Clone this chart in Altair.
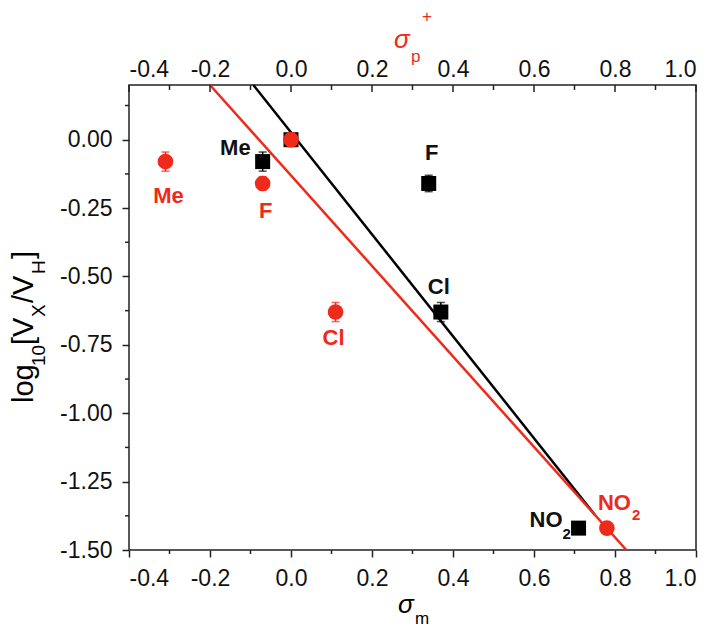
import altair as alt
import pandas as pd

# ---------------- data ----------------
substituents = ["Me", "H", "F", "Cl", "NO2"]
sigma_m = [-0.07, 0.0, 0.34, 0.37, 0.71]
sigma_p_plus = [-0.31, 0.0, -0.07, 0.11, 0.78]
log_ratio = [-0.08, 0.0, -0.16, -0.63, -1.42]
err_m = [0.035, 0.02, 0.03, 0.035, 0.01]
err_p = [0.035, 0.025, 0.025, 0.035, 0.02]

fit_m_x = [-0.093, 0.75]
fit_m_y = [0.2, -1.371]
fit_p_x = [-0.2, 0.828]
fit_p_y = [0.2, -1.5]

x_major = [-0.4, -0.2, 0.0, 0.2, 0.4, 0.6, 0.8, 1.0]
x_minor = [-0.3, -0.1, 0.1, 0.3, 0.5, 0.7, 0.9]
y_major = [-1.5, -1.25, -1.0, -0.75, -0.5, -0.25, 0.0]
y_minor = [-1.375, -1.125, -0.875, -0.625, -0.375, -0.125, 0.125]

# ---------------- style ----------------
W, H = 567, 465
FONT = "Liberation Sans"
RED = "#ee2a1a"
BLACK = "#111111"
LBL = 23

XLBL = "(datum.value < 0 ? '-' : '') + format(abs(datum.value), '.1f')"
YLBL = "(datum.value < 0 ? '-' : '') + format(abs(datum.value), '.2f')"

xs = alt.Scale(domain=[-0.4, 1.0], nice=False, zero=False)
ys = alt.Scale(domain=[-1.5, 0.2], nice=False, zero=False)
xax = alt.Axis(values=x_major, labelExpr=XLBL, title=None, tickSize=7, labelFontSize=LBL,
               labelPadding=10, grid=False, domain=False, labelFont=FONT)
yax = alt.Axis(values=y_major, labelExpr=YLBL, title=None, tickSize=7, labelFontSize=LBL,
               labelPadding=10, grid=False, domain=False, labelFont=FONT)
xtop = alt.Axis(orient="top", values=x_major, labelExpr=XLBL, title=None, ticks=False, tickSize=0,
                labelFontSize=LBL, labelPadding=4, grid=False, domain=False, labelFont=FONT)

label_style = {
    ("m", "Me"): dict(align="right", dx=-12, dy=-7),
    ("m", "F"): dict(align="center", dx=3, dy=-23),
    ("m", "Cl"): dict(align="center", dx=-2, dy=-18),
    ("m", "NO2"): dict(align="right", dx=-16, dy=-1, sub_dx=-16, sub_dy=11),
    ("p", "Me"): dict(align="center", dx=3, dy=41),
    ("p", "F"): dict(align="center", dx=3, dy=35),
    ("p", "Cl"): dict(align="center", dx=-2, dy=33),
    ("p", "NO2"): dict(align="left", dx=-9, dy=-18, sub_dx=25, sub_dy=-8),
}

df_m = pd.DataFrame({"sub": substituents, "x": sigma_m, "y": log_ratio,
                     "lo": [v - e for v, e in zip(log_ratio, err_m)],
                     "hi": [v + e for v, e in zip(log_ratio, err_m)]})
df_p = pd.DataFrame({"sub": substituents, "x": sigma_p_plus, "y": log_ratio,
                     "lo": [v - e for v, e in zip(log_ratio, err_p)],
                     "hi": [v + e for v, e in zip(log_ratio, err_p)]})
fit_m = pd.DataFrame({"x": fit_m_x, "y": fit_m_y})
fit_p = pd.DataFrame({"x": fit_p_x, "y": fit_p_y})
dummy = pd.DataFrame({"a": [0]})

X = lambda f="x": alt.X(f"{f}:Q", scale=xs, axis=xax)
Y = lambda f="y": alt.Y(f"{f}:Q", scale=ys, axis=yax)

layers = []
# minor ticks bottom / left
layers.append(alt.Chart(pd.DataFrame({"x": x_minor})).mark_rule(color="#222", strokeWidth=1.5)
              .encode(x=X(), y=alt.value(H), y2=alt.value(H + 4)))
layers.append(alt.Chart(pd.DataFrame({"y": y_minor})).mark_rule(color="#222", strokeWidth=1.5)
              .encode(y=Y(), x=alt.value(-4), x2=alt.value(0)))
# fit lines
layers.append(alt.Chart(fit_m).mark_line(color="black", strokeWidth=2.5).encode(x=X(), y=Y()))
layers.append(alt.Chart(fit_p).mark_line(color=RED, strokeWidth=2.5).encode(x=X(), y=Y()))


def points(df, color, shape, size):
    out = []
    out.append(alt.Chart(df).mark_rule(color=color, strokeWidth=1.5)
               .encode(x=X(), y=Y("lo"), y2="hi:Q"))
    out.append(alt.Chart(df).mark_tick(color=color, orient="horizontal", size=8, thickness=1.5)
               .encode(x=X(), y=Y("lo")))
    out.append(alt.Chart(df).mark_tick(color=color, orient="horizontal", size=8, thickness=1.5)
               .encode(x=X(), y=Y("hi")))
    out.append(alt.Chart(df).mark_point(shape=shape, filled=True, size=size, color=color, opacity=1)
               .encode(x=X(), y=Y()))
    return out


layers += points(df_m, "black", "square", 225)
layers += points(df_p, RED, "circle", 245)


def labels(df, key, color):
    out = []
    for _, row in df.iterrows():
        st = label_style.get((key, row["sub"]))
        if st is None:
            continue
        one = df[df["sub"] == row["sub"]]
        main = "NO" if row["sub"] == "NO2" else row["sub"]
        out.append(alt.Chart(one).mark_text(text=main, font=FONT, fontSize=22, fontWeight="bold",
                                            color=color, align=st["align"], baseline="alphabetic",
                                            dx=st["dx"], dy=st["dy"])
                   .encode(x=X(), y=Y()))
        if row["sub"] == "NO2":
            out.append(alt.Chart(one).mark_text(text="2", font=FONT, fontSize=15, fontWeight="bold",
                                                color=color, align="left", baseline="alphabetic",
                                                dx=st["sub_dx"], dy=st["sub_dy"])
                       .encode(x=X(), y=Y()))
    return out


layers += labels(df_m, "m", BLACK)
layers += labels(df_p, "p", RED)


def txt(s, x, y, size, color="black", italic=False, angle=0):
    return (alt.Chart(dummy)
            .mark_text(text=s, font=FONT, fontSize=size, fontStyle="italic" if italic else "normal",
                       color=color, angle=angle, align="left", baseline="alphabetic")
            .encode(x=alt.value(x), y=alt.value(y)))


# y title: log10[VX/VH]
MS, SS = 29, 19
layers += [
    txt("log", -96, 318, MS, angle=270),
    txt("10", -84, 281, SS, angle=270),
    txt("[V", -96, 260, MS, angle=270),
    txt("X", -84, 232, SS, angle=270),
    txt("/V", -96, 218, MS, angle=270),
    txt("H", -84, 189, SS, angle=270),
    txt("]", -96, 174, MS, angle=270),
]
# bottom title sigma_m
layers += [txt("σ", 269, 528, 26, italic=True), txt("m", 286, 539, 17)]
# top title sigma_p+
layers += [txt("σ", 265, -37, 26, color=RED, italic=True),
           txt("p", 282, -23, 17, color=RED),
           txt("+", 293, -63, 17, color=RED)]

inner = alt.layer(*layers)

# top axis with inward ticks
xs_top = alt.Scale(domain=[-0.4, 1.0], nice=False, zero=False)
top_major = (alt.Chart(pd.DataFrame({"x": x_major})).mark_rule(color="#222", strokeWidth=1.5)
             .encode(x=alt.X("x:Q", scale=xs_top, axis=xtop), y=alt.value(0), y2=alt.value(7)))
top_minor = (alt.Chart(pd.DataFrame({"x": x_minor})).mark_rule(color="#222", strokeWidth=1.5)
             .encode(x=alt.X("x:Q", scale=xs_top, axis=xtop), y=alt.value(0), y2=alt.value(5)))
top = alt.layer(top_major, top_minor)

chart = (alt.layer(inner, top)
         .resolve_scale(x="independent")
         .properties(width=W, height=H, autosize=alt.AutoSizeParams(type="none"),
                     padding={"left": 121, "top": 77, "right": 15, "bottom": 78},
                     background="white")
         .configure_view(stroke="#222", strokeWidth=1.5)
         .configure_axis(labelColor="#111", tickColor="#222", tickWidth=1.5))

chart.save("out.html", embed_options={"renderer": "svg", "actions": False})
